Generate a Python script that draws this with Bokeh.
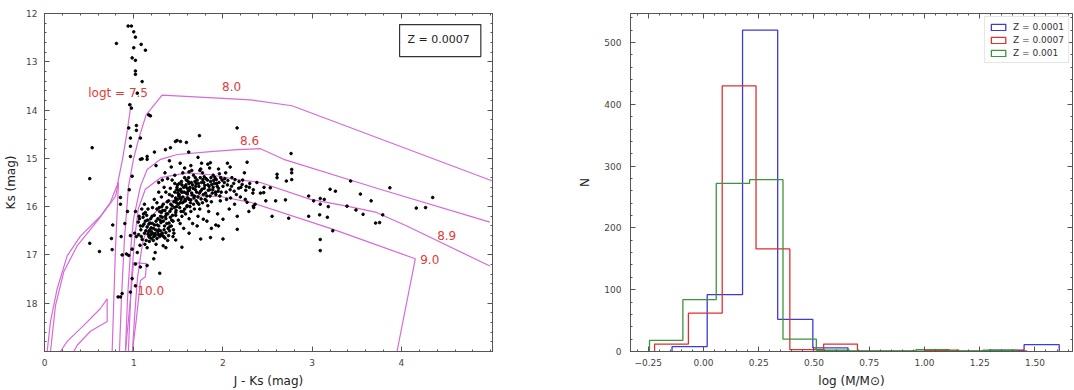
import numpy as np
from bokeh.plotting import figure
from bokeh.layouts import row
from bokeh.models import Range1d, LinearAxis, FixedTicker, Label, Legend, LegendItem
from bokeh.embed import file_html
from bokeh.resources import INLINE

FONT = "DejaVu Sans"
AX = "#555555"
MAG = "#d66ad6"
LBL = "#e03c3c"

# ---------------- CMD stars (J-Ks, Ks) ----------------
upper_branch = [(0.937,12.26),(0.974,12.26),(1.00,12.38),(1.019,12.49),(0.806,12.62),(1.00,12.71),
 (1.083,12.64),(1.131,12.76),(0.982,12.92),(1.019,12.97),(1.019,13.19),(1.019,13.26),(1.094,13.41),
 (1.04,13.65),(0.955,13.89),(0.974,13.96),(1.168,14.10),(1.187,14.12),(0.944,14.37),(1.03,14.32),
 (1.03,14.42),(0.963,14.58),(1.075,14.58),(0.963,14.75),(0.963,14.96),(1.15,14.96),(0.982,15.37),
 (1.075,15.02),(0.851,15.81),(0.851,15.95)]
field_left = [(0.534,14.78),(0.507,15.42),(0.507,16.76),(0.616,16.93),(0.765,16.38),(0.758,16.89),
 (0.750,16.66),(0.859,16.62),(0.870,17.00),(0.918,16.98),(0.944,17.01),(0.982,16.88),(0.963,16.60),
 (0.825,17.87),(0.851,17.87),(0.870,17.80),(0.963,17.77),(0.982,17.49),(1.019,17.64),(1.019,17.19),
 (1.075,17.25),(1.15,17.22),(1.224,17.08),(1.291,17.38),(0.90,16.35),(0.93,16.10),(0.95,15.65)]
above_cluster = [(1.523,14.65),(1.736,14.53),(2.158,14.37),(1.232,14.87),(1.355,14.82),(1.411,14.78),
 (1.467,14.65),(1.486,14.63),(1.59,14.67),(1.094,15.01),(1.15,15.02),(1.616,14.87),(2.27,15.08),
 (1.859,15.09),(1.25,15.15),(1.40,15.05),(1.72,14.98),(2.05,15.10),
 (1.35,15.30),(1.42,15.18),(1.52,15.10),(1.62,15.28),(1.74,15.25),(1.83,15.12),(1.95,15.22),(2.08,15.18),
 (1.28,15.50),(1.38,15.42)]
below_cluster = [(2.16,16.47),(2.0,16.26),(1.86,16.64),(1.75,16.67),(1.54,16.84),(1.33,16.81),(2.0,16.67),
 (1.78,16.26),(2.34,15.99),(2.27,15.91),(1.47,16.69),(1.62,16.55),(1.95,16.40)]
cluster = [
 (1.02,16.10),(1.05,16.32),(1.08,16.48),(1.03,16.62),(1.07,16.80),(1.09,16.05),(1.04,16.95),(1.06,16.20),(1.10,16.40),(1.01,16.55),
 (1.11,16.15),(1.13,16.30),(1.15,16.42),(1.12,16.55),(1.17,16.62),(1.14,16.70),(1.19,16.25),(1.16,16.05),(1.18,16.48),(1.12,15.95),
 (1.15,16.85),(1.19,16.58),(1.13,16.12),(1.17,16.36),(1.20,16.66),
 (1.21,16.02),(1.23,16.18),(1.25,16.30),(1.22,16.45),(1.27,16.52),(1.24,16.60),(1.29,16.10),(1.26,15.92),(1.28,16.40),(1.22,16.70),
 (1.25,16.78),(1.29,16.62),(1.23,15.85),(1.27,16.25),(1.30,16.50),(1.21,16.35),(1.26,16.05),(1.24,16.95),(1.28,15.70),(1.30,16.20),
 (1.31,15.80),(1.33,15.95),(1.35,16.08),(1.32,16.22),(1.37,16.35),(1.34,16.48),(1.39,16.60),(1.36,15.70),(1.38,16.15),(1.32,16.55),
 (1.35,16.65),(1.39,15.88),(1.33,16.30),(1.37,16.02),(1.40,16.42),(1.31,16.12),(1.36,16.25),(1.34,15.60),(1.38,16.70),(1.40,15.75),
 (1.32,15.45),(1.36,16.85),
 (1.41,15.62),(1.43,15.78),(1.45,15.90),(1.42,16.05),(1.47,16.18),(1.44,16.30),(1.49,15.55),(1.46,15.70),(1.48,16.00),(1.42,16.40),
 (1.45,16.55),(1.49,15.85),(1.43,15.45),(1.47,16.12),(1.50,15.95),(1.41,16.22),(1.46,15.35),(1.44,16.62),(1.48,15.65),(1.50,16.28),
 (1.43,15.98),(1.47,15.82),
 (1.51,15.52),(1.53,15.68),(1.55,15.80),(1.52,15.92),(1.57,16.05),(1.54,16.20),(1.59,15.45),(1.56,15.60),(1.58,15.88),(1.52,16.35),
 (1.55,15.30),(1.59,15.72),(1.53,16.10),(1.57,15.40),(1.60,15.98),(1.51,15.75),(1.56,16.45),(1.54,15.55),(1.58,16.15),(1.60,15.62),
 (1.53,15.85),(1.57,15.20),
 (1.61,15.48),(1.63,15.60),(1.65,15.72),(1.62,15.85),(1.67,15.95),(1.64,16.10),(1.69,15.40),(1.66,15.55),(1.68,15.78),(1.62,16.25),
 (1.65,15.25),(1.69,15.65),(1.63,16.00),(1.67,15.35),(1.70,15.88),(1.61,15.68),(1.66,16.35),(1.64,15.15),(1.68,16.05),(1.70,15.52),
 (1.71,15.45),(1.73,15.58),(1.75,15.68),(1.72,15.80),(1.77,15.92),(1.74,16.05),(1.79,15.38),(1.76,15.50),(1.78,15.75),(1.72,16.20),
 (1.75,15.22),(1.79,15.62),(1.73,15.95),(1.77,15.30),(1.80,15.85),(1.71,16.40),(1.76,15.10),
 (1.81,15.42),(1.83,15.55),(1.85,15.65),(1.82,15.78),(1.87,15.90),(1.84,16.10),(1.89,15.35),(1.86,15.48),(1.88,15.72),(1.82,16.30),
 (1.85,15.20),(1.89,15.60),(1.83,15.98),(1.87,16.45),
 (1.91,15.40),(1.93,15.52),(1.95,15.62),(1.92,15.75),(1.97,15.88),(1.94,16.15),(1.99,15.45),(1.96,15.32),(1.98,15.70),(1.92,16.38),
 (2.00,15.58),
 (2.02,15.42),(2.05,15.55),(2.08,15.65),(2.04,15.85),(2.10,15.40),(2.12,15.52),(2.15,15.75),(2.07,16.05),(2.18,15.48),(2.13,15.95),
 (2.20,15.60),(2.03,15.30),(2.16,16.20),
 (2.22,15.45),(2.26,15.58),(2.30,15.52),(2.25,15.85),(2.34,15.65),(2.38,15.50),(2.42,15.72),(2.29,16.10),(2.46,15.60),(2.36,15.95),
 (2.48,15.88),(2.24,15.30)]
cluster_core = [
 (1.265,16.38),(1.285,16.02),(1.305,16.33),(1.325,16.08),(1.345,16.40),(1.365,16.15),(1.385,16.45),(1.405,16.10),(1.425,16.28),(1.445,16.48),
 (1.275,16.58),(1.295,16.28),(1.315,16.00),(1.335,16.62),(1.355,16.20),(1.375,15.90),(1.395,16.34),(1.415,15.95),(1.435,16.18),(1.455,16.02),
 (1.465,15.88),(1.485,15.60),(1.505,15.78),(1.525,15.64),(1.545,15.92),(1.565,15.70),(1.585,15.55),(1.605,15.82),(1.625,15.66),(1.645,15.50),
 (1.475,16.08),(1.495,15.72),(1.515,16.02),(1.535,15.48),(1.555,16.10),(1.575,15.85),(1.595,16.00),(1.615,15.40),(1.635,15.92),(1.655,15.76),
 (1.46,15.52),(1.48,15.92),(1.50,15.66),(1.52,15.82),(1.54,15.70),(1.56,15.90),(1.58,15.58),(1.60,15.74),(1.62,15.52),(1.64,15.86),
 (1.665,15.62),(1.685,15.48),(1.705,15.70),(1.725,15.52),(1.745,15.40),(1.765,15.64),(1.785,15.50),(1.805,15.72),(1.825,15.45),(1.845,15.58),
 (1.865,15.40),(1.885,15.65),(1.905,15.52),(1.925,15.44),(1.945,15.68),(1.675,15.82),(1.695,15.58),(1.715,15.92),(1.735,15.72),(1.755,15.84),
 (1.775,15.44),(1.795,15.56),(1.815,15.88),(1.835,15.66),(1.855,15.78),(1.875,15.54),(1.895,15.46),(1.915,15.70),(1.935,15.58),(1.955,15.50),
 (1.055,16.58),(1.075,16.40),(1.095,16.68),(1.115,16.36),(1.135,16.50),(1.155,16.28),(1.175,16.72),(1.195,16.44),(1.215,16.56),(1.235,16.38),
 (1.065,16.25),(1.085,16.62),(1.105,16.22),(1.125,16.78),(1.145,16.18),(1.165,16.52),(1.185,16.34),(1.205,16.20),(1.225,16.62),(1.245,16.48),
 (1.16,16.57),(1.20,16.52),(1.24,16.56),(1.28,16.48),(1.32,16.60),(1.36,16.54),(1.40,16.50),(1.18,16.64),(1.26,16.66),(1.30,16.58),
 (1.975,15.40),(2.015,15.50),(2.055,15.46),(2.095,15.58),(2.135,15.44),(2.175,15.62),(2.215,15.54),(2.255,15.66),(2.295,15.60),(2.335,15.72),
 (1.965,15.78),(2.035,15.70),(2.085,15.82),(2.125,15.68),(2.195,15.80)]
tail = [(2.763,14.90),(2.606,15.33),(2.606,15.40),(2.77,15.23),(2.77,15.30),(2.77,15.44),(2.71,15.47),(2.53,15.61),
 (2.456,15.71),(2.59,15.88),(2.70,15.86),(2.344,16.02),(2.55,16.20),(2.736,16.24),(2.96,15.78),(3.016,15.88),
 (3.09,15.83),(3.135,15.85),(3.09,15.95),(3.18,16.00),(3.20,15.64),(3.26,15.68),(2.96,16.20),(3.083,16.17),
 (3.17,16.22),(3.23,16.50),(3.09,16.68),(3.09,16.91),(3.43,15.47),(3.54,15.74),(3.39,15.99),(3.49,16.07),
 (3.57,16.16),(3.66,15.88),(3.71,16.34),(3.755,16.33),(3.79,16.17),(3.87,15.61),(4.166,16.03),(4.27,16.02),
 (4.35,15.81)]

# ---------------- isochrones (J-Ks, Ks) ----------------
iso_7_5 = [(0.971,13.86),(0.929,14.41),(0.873,15.03),(0.817,15.54),(0.739,15.91),(0.627,16.20),(0.403,16.61),
           (0.254,17.02),(0.142,17.70),(0.067,18.38),(0.030,19.0)]
iso_7_5b = [(0.829,15.50),(0.795,15.79),(0.590,16.30),(0.366,16.81),(0.216,17.35),(0.123,18.05),(0.067,19.0)]
iso_7_5c = [(0.829,15.50),(0.795,16.88),(0.758,19.0)]
iso_loop = [(0.179,19.0),(0.254,18.79),(0.44,18.46),(0.627,18.11),(0.702,17.91),(0.702,18.38),(0.515,18.58),
            (0.366,18.87),(0.328,19.0)]
iso_8_0 = [(5.02,15.47),(2.774,13.91),(2.307,13.79),(1.318,13.69),(1.139,14.10),(1.053,14.61),(0.997,15.02),
           (0.941,15.58),(0.896,16.67),(0.862,17.91),(0.840,19.0)]
iso_8_6 = [(4.99,16.32),(3.76,15.64),(2.68,15.02),(2.42,14.80),(2.16,14.82),(1.86,14.86),(1.49,14.92),(1.30,15.02),
           (1.15,15.23),(1.075,15.58),(0.997,16.26),(0.963,16.94),(0.93,17.91),(0.907,19.0)]
iso_8_9 = [(4.99,17.23),(4.06,16.40),(3.72,16.12),(3.39,15.99),(2.98,15.85),(2.42,15.50),(2.16,15.44),(1.86,15.34),
           (1.60,15.30),(1.30,15.40),(1.13,15.64),(1.05,16.05),(1.01,16.67),(0.974,17.49),(0.94,19.0)]
iso_9_0 = [(3.95,19.0),(4.155,17.08),(3.236,16.47),(2.307,15.91),(1.971,15.79),(1.635,15.77),(1.355,15.91),
           (1.187,16.22),(1.097,16.77),(1.041,17.49),(1.008,18.32),(0.985,19.0)]
iso_10_0 = [(0.907,19.0),(0.963,17.91),(0.997,17.16),(1.142,17.18),(1.131,17.45),(1.075,17.53),(1.03,18.32),(0.985,19.0)]

# ---------------- mass histograms ----------------
blue_edges = [-0.142, 0.017, 0.177, 0.336, 0.495, 0.654, 0.814, 0.973, 1.132, 1.291, 1.451, 1.610]
blue_counts = [8, 92, 520, 52, 6, 0, 0, 0, 0, 2, 11]
red_edges = [-0.221, -0.068, 0.085, 0.238, 0.391, 0.544, 0.697, 0.850, 1.003, 1.156, 1.309, 1.462]
red_counts = [12, 62, 430, 166, 3, 12, 0, 0, 2, 0, 1]
green_edges = [-0.244, -0.093, 0.058, 0.209, 0.360, 0.511, 0.662, 0.813, 0.962, 1.113, 1.264, 1.415]
green_counts = [18, 84, 272, 278, 20, 2, 1, 1, 3, 1, 2]
hist_labels = ["Z = 0.0001", "Z = 0.0007", "Z = 0.001"]
hist_colors = ["#3b3bd8", "#e03030", "#3c943c"]

xt1 = [0, 1, 2, 3, 4]
yt1 = [12, 13, 14, 15, 16, 17, 18]
xt2 = [-0.25, 0.0, 0.25, 0.5, 0.75, 1.0, 1.25, 1.5]
xt2_lbl = ["\u22120.25", "0.00", "0.25", "0.50", "0.75", "1.00", "1.25", "1.50"]
yt2 = [0, 100, 200, 300, 400, 500]


def style_axis(ax, ticks=None):
    ax.axis_line_color = AX
    ax.major_tick_line_color = AX
    ax.minor_tick_line_color = AX
    ax.major_tick_in = 5
    ax.major_tick_out = 0
    ax.minor_tick_in = 2
    ax.minor_tick_out = 0
    ax.major_label_text_font = FONT
    ax.major_label_text_color = "#444444"
    ax.major_label_text_font_size = "9px"
    ax.axis_label_text_font = FONT
    ax.axis_label_text_font_size = "12px"
    ax.axis_label_text_font_style = "normal"
    ax.axis_label_text_color = "#222222"
    if ticks is not None:
        ax.major_label_overrides = {t: "" for t in ticks}
        ax.major_label_text_color = None
        ax.major_label_text_font_size = "1px"
        ax.major_label_standoff = 0
        ax.axis_label = None


def base_fig(w, xr, yr, bl, br):
    p = figure(width=w, height=390, x_range=xr, y_range=yr, output_backend="svg",
               toolbar_location=None, min_border_left=bl, min_border_right=br,
               min_border_top=13, min_border_bottom=37)
    p.xgrid.visible = False
    p.ygrid.visible = False
    p.outline_line_color = AX
    return p


# ---------------- left: CMD ----------------
p1 = base_fig(571, Range1d(0, 5.02), Range1d(19, 12), 44, 79)
xtick1 = FixedTicker(ticks=xt1, minor_ticks=[round(0.2 * i, 2) for i in range(26)])
ytick1 = FixedTicker(ticks=yt1, minor_ticks=[round(12 + 0.2 * i, 2) for i in range(36)])
p1.xaxis.ticker = xtick1
p1.yaxis.ticker = ytick1
p1.xaxis.axis_label = "J - Ks (mag)"
p1.yaxis.axis_label = "Ks (mag)"
for ax in p1.xaxis + p1.yaxis:
    style_axis(ax)
p1.xaxis.major_label_standoff = 7
p1.xaxis.axis_label_standoff = 5
p1.yaxis.major_label_standoff = 7
p1.yaxis.axis_label_standoff = 5
top1 = LinearAxis(ticker=xtick1)
right1 = LinearAxis(ticker=ytick1)
style_axis(top1, xt1)
style_axis(right1, yt1)
p1.add_layout(top1, "above")
p1.add_layout(right1, "right")

for iso in [iso_7_5, iso_7_5b, iso_7_5c, iso_loop, iso_8_0, iso_8_6, iso_8_9, iso_9_0, iso_10_0]:
    p1.line([a for a, b in iso], [b for a, b in iso], line_color=MAG, line_width=1.2)

stars = upper_branch + field_left + above_cluster + below_cluster + cluster + cluster_core + tail
p1.scatter([a for a, b in stars], [b for a, b in stars], size=2.6, color="black", marker="circle")

for txt, x, y in [("logt = 7.5", 0.49, 13.65), ("8.0", 1.99, 13.52), ("8.6", 2.19, 14.63),
                  ("8.9", 4.40, 16.59), ("9.0", 4.21, 17.10), ("10.0", 1.04, 17.74)]:
    p1.add_layout(Label(x=x, y=y, text=txt, text_color=LBL, text_font=FONT, text_font_size="12px",
                        text_align="left", text_baseline="middle"))
p1.add_layout(Label(x=4.434, y=12.56, text="Z = 0.0007", text_font=FONT, text_font_size="11px",
                    text_align="center", text_baseline="middle", text_color="#222222",
                    border_line_color="#333333", border_line_width=1.2,
                    background_fill_color="white", padding=(8, 11, 8, 11)))

# ---------------- right: mass histogram ----------------
p2 = base_fig(503, Range1d(-0.33, 1.67), Range1d(0, 547), 59, 2)
xtick2 = FixedTicker(ticks=xt2, minor_ticks=[round(-0.30 + 0.05 * i, 3) for i in range(40)])
ytick2 = FixedTicker(ticks=yt2, minor_ticks=[20 * i for i in range(28)])
p2.xaxis.ticker = xtick2
p2.yaxis.ticker = ytick2
p2.xaxis.axis_label = "log (M/M\u2299)"
p2.yaxis.axis_label = "N"
for ax in p2.xaxis + p2.yaxis:
    style_axis(ax)
p2.xaxis.major_label_overrides = {t: s for t, s in zip(xt2, xt2_lbl)}
p2.xaxis.major_label_standoff = 7
p2.xaxis.axis_label_standoff = 5
p2.yaxis.major_label_standoff = 9
p2.yaxis.axis_label_standoff = 9
top2 = LinearAxis(ticker=xtick2)
right2 = LinearAxis(ticker=ytick2)
style_axis(top2, xt2)
style_axis(right2, yt2)
p2.add_layout(top2, "above")
p2.add_layout(right2, "right")

items = []
for edges, counts, lab, col in zip([blue_edges, red_edges, green_edges],
                                   [blue_counts, red_counts, green_counts], hist_labels, hist_colors):
    xs = [edges[0]]
    ys = [0]
    for i, c in enumerate(counts):
        xs += [edges[i], edges[i + 1]]
        ys += [c, c]
    xs.append(edges[-1])
    ys.append(0)
    p2.line(xs, ys, line_color=col, line_width=1.3)
    q = p2.quad(left=edges[:-1], right=edges[1:], top=counts, bottom=0, fill_alpha=0,
                line_color=col, line_width=1.3, visible=False)
    items.append(LegendItem(label=lab, renderers=[q]))

leg = Legend(items=items, location="top_right", label_text_font=FONT, label_text_font_size="9px",
             label_text_color="#333333", glyph_width=18, glyph_height=8, label_height=11,
             spacing=2, padding=4, margin=3, border_line_color="#cccccc",
             background_fill_alpha=0.85, label_standoff=6)
p2.add_layout(leg)

layout = row(p1, p2)
open("out.html", "w").write(file_html(layout, INLINE))
